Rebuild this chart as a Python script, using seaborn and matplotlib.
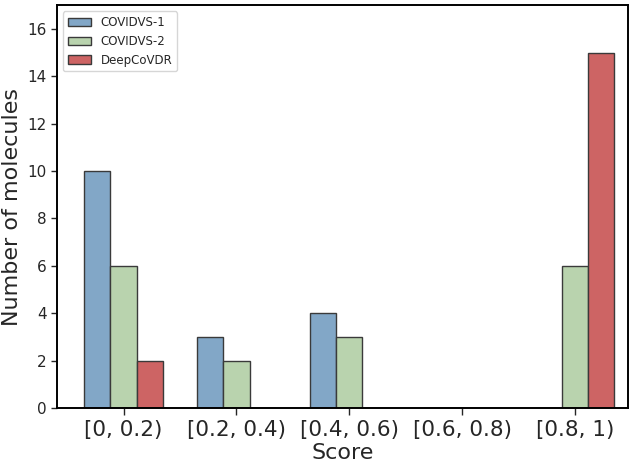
import pandas as pd
import matplotlib
matplotlib.use("Agg")
import matplotlib.pyplot as plt
import seaborn as sns

# score bins and counts per method
bins = ["[0, 0.2)", "[0.2, 0.4)", "[0.4, 0.6)", "[0.6, 0.8)", "[0.8, 1)"]
covidvs1 = [10, 3, 4, 0, 0]
covidvs2 = [6, 2, 3, 0, 6]
deepcovdr = [2, 0, 0, 0, 15]
methods = ["COVIDVS-1", "COVIDVS-2", "DeepCoVDR"]
colors = ["#82A7C7", "#B9D3AE", "#CD6464"]

rows = []
for method, vals in zip(methods, [covidvs1, covidvs2, deepcovdr]):
    for b, v in zip(bins, vals):
        rows.append({"Score": b, "count": v, "method": method})
df = pd.DataFrame(rows)

sns.set_style("white")
plt.rcParams['font.family'] = ['DejaVu Sans']

fig = plt.figure(figsize=(6.33, 4.65), dpi=100)
ax = fig.add_axes([0.090, 0.1226, 0.902, 0.866])

sns.barplot(data=df, x="Score", y="count", hue="method", order=bins,
            hue_order=methods, palette=colors, width=0.7, gap=0,
            edgecolor="#3a3a3a", linewidth=1.0, saturation=1, ax=ax)

ax.set_xlim(-0.59, 4.47)
ax.set_ylim(0, 17)
ax.set_yticks(range(0, 17, 2))
ax.set_xlabel("Score", fontsize=16, labelpad=2)
ax.set_ylabel("Number of molecules", fontsize=16)
ax.tick_params(axis="x", labelsize=15.5, length=5, width=1, direction="out", bottom=True)
ax.tick_params(axis="y", labelsize=11, length=4, width=1, direction="out", left=True)
for s in ax.spines.values():
    s.set_color("black")
    s.set_linewidth(1.4)

ax.legend(loc="upper left", fontsize=8.5, frameon=True, fancybox=True)

fig.savefig("out.png", dpi=100)
